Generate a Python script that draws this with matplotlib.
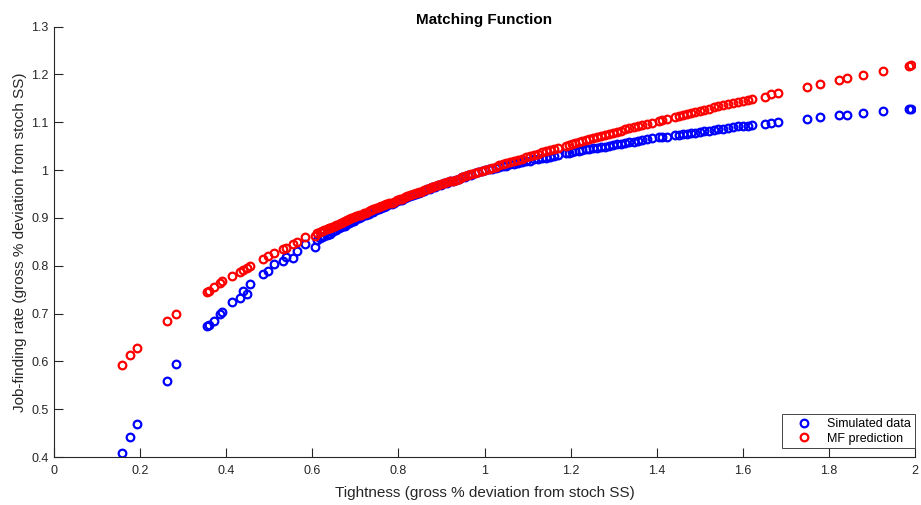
import numpy as np
import matplotlib.pyplot as plt

plt.rcParams['font.family'] = ['Liberation Sans', 'DejaVu Sans']

# tightness (x) and job-finding rate (y)
tightness = [
    0.157, 0.177, 0.192, 0.262, 0.284, 0.355, 0.361, 0.371, 0.386, 0.391,
    0.413, 0.431, 0.440, 0.448, 0.455, 0.485, 0.496, 0.511, 0.533, 0.538,
    0.554, 0.564, 0.583, 0.606,
    0.612, 0.618, 0.623, 0.627, 0.633, 0.638, 0.641, 0.646, 0.652, 0.655,
    0.661, 0.666, 0.671, 0.675, 0.681, 0.686, 0.690, 0.697, 0.702, 0.708,
    0.713, 0.719, 0.724, 0.731, 0.736, 0.742, 0.749, 0.754, 0.760, 0.766,
    0.771, 0.779, 0.784, 0.790, 0.797, 0.803, 0.808, 0.815, 0.821, 0.828,
    0.834, 0.841, 0.847, 0.852, 0.860, 0.866, 0.873, 0.879, 0.886, 0.892,
    0.899, 0.905, 0.913, 0.919, 0.926, 0.933, 0.940, 0.948, 0.955, 0.962,
    0.969, 0.977, 0.985, 0.993, 1.002, 1.010, 1.018, 1.026, 1.034, 1.043,
    1.051, 1.060, 1.068, 1.077, 1.087, 1.096, 1.105, 1.114, 1.124, 1.133,
    1.142, 1.152, 1.161, 1.170,
    1.190, 1.196, 1.203, 1.211, 1.219, 1.227, 1.235, 1.243, 1.252, 1.261,
    1.270, 1.279, 1.289, 1.298, 1.307, 1.317, 1.327, 1.336, 1.346, 1.356,
    1.366, 1.377, 1.388,
    1.405, 1.411, 1.424,
    1.443, 1.451, 1.460, 1.470, 1.479, 1.489, 1.500, 1.510, 1.521, 1.532,
    1.543, 1.554, 1.565, 1.577, 1.589, 1.600, 1.612, 1.622,
    1.652, 1.665, 1.681, 1.748, 1.778, 1.824, 1.841, 1.878, 1.926, 1.985,
    1.990,
]

simulated = [
    0.409, 0.442, 0.468, 0.558, 0.595, 0.673, 0.676, 0.685, 0.698, 0.704,
    0.724, 0.733, 0.748, 0.740, 0.761, 0.783, 0.788, 0.804, 0.810, 0.819,
    0.817, 0.831, 0.846, 0.839,
    0.854, 0.857, 0.859, 0.862, 0.864, 0.867, 0.867, 0.871, 0.874, 0.874,
    0.878, 0.880, 0.883, 0.884, 0.887, 0.890, 0.892, 0.894, 0.897, 0.899,
    0.901, 0.905, 0.905, 0.909, 0.912, 0.913, 0.916, 0.918, 0.921, 0.922,
    0.925, 0.928, 0.930, 0.931, 0.935, 0.937, 0.938, 0.941, 0.944, 0.945,
    0.948, 0.950, 0.952, 0.954, 0.957, 0.960, 0.961, 0.964, 0.965, 0.968,
    0.969, 0.972, 0.973, 0.976, 0.977, 0.980, 0.981, 0.985, 0.986, 0.989,
    0.990, 0.993, 0.995, 0.998, 1.001, 1.002, 1.003, 1.004, 1.007, 1.008,
    1.009, 1.012, 1.013, 1.014, 1.016, 1.018, 1.019, 1.022, 1.023, 1.025,
    1.026, 1.028, 1.030, 1.031,
    1.035, 1.036, 1.038, 1.039, 1.040, 1.042, 1.043, 1.044, 1.046, 1.047,
    1.048, 1.049, 1.051, 1.053, 1.054, 1.055, 1.057, 1.058, 1.059, 1.061,
    1.063, 1.064, 1.066,
    1.068, 1.069, 1.070,
    1.073, 1.074, 1.075, 1.076, 1.077, 1.078, 1.080, 1.081, 1.082, 1.084,
    1.085, 1.086, 1.088, 1.089, 1.091, 1.092, 1.093, 1.094,
    1.097, 1.099, 1.100, 1.106, 1.110, 1.114, 1.115, 1.119, 1.123, 1.127,
    1.128,
]

mf_prediction = [
    0.592, 0.614, 0.627, 0.685, 0.700, 0.746, 0.748, 0.755, 0.764, 0.767,
    0.779, 0.787, 0.792, 0.796, 0.800, 0.815, 0.821, 0.827, 0.835, 0.837,
    0.846, 0.849, 0.859, 0.863,
    0.868, 0.870, 0.872, 0.874, 0.876, 0.878, 0.879, 0.881, 0.884, 0.885,
    0.887, 0.889, 0.891, 0.893, 0.895, 0.897, 0.899, 0.901, 0.903, 0.905,
    0.907, 0.910, 0.911, 0.914, 0.916, 0.918, 0.920, 0.922, 0.924, 0.926,
    0.928, 0.931, 0.932, 0.934, 0.937, 0.939, 0.940, 0.943, 0.945, 0.947,
    0.949, 0.951, 0.953, 0.955, 0.958, 0.960, 0.962, 0.964, 0.966, 0.968,
    0.970, 0.972, 0.974, 0.976, 0.978, 0.980, 0.982, 0.985, 0.987, 0.989,
    0.991, 0.993, 0.996, 0.998, 1.001, 1.003, 1.005, 1.007, 1.010, 1.012,
    1.014, 1.017, 1.019, 1.021, 1.024, 1.027, 1.029, 1.032, 1.034, 1.037,
    1.039, 1.041, 1.044, 1.046,
    1.051, 1.053, 1.055, 1.057, 1.059, 1.061, 1.063, 1.065, 1.067, 1.069,
    1.071, 1.073, 1.076, 1.078, 1.080, 1.082, 1.085, 1.087, 1.089, 1.091,
    1.094, 1.096, 1.099,
    1.103, 1.104, 1.107,
    1.111, 1.113, 1.115, 1.117, 1.119, 1.121, 1.124, 1.126, 1.128, 1.131,
    1.133, 1.135, 1.138, 1.140, 1.143, 1.145, 1.147, 1.149,
    1.153, 1.158, 1.161, 1.174, 1.180, 1.189, 1.192, 1.199, 1.208, 1.218,
    1.219,
]

xtick_vals = [0, 0.2, 0.4, 0.6, 0.8, 1, 1.2, 1.4, 1.6, 1.8, 2]
xtick_labels = ['0', '0.2', '0.4', '0.6', '0.8', '1', '1.2', '1.4', '1.6', '1.8', '2']
ytick_vals = [0.4, 0.5, 0.6, 0.7, 0.8, 0.9, 1, 1.1, 1.2, 1.3]
ytick_labels = ['0.4', '0.5', '0.6', '0.7', '0.8', '0.9', '1', '1.1', '1.2', '1.3']

axis_col = (0.15, 0.15, 0.15)

fig = plt.figure(figsize=(9.21, 5.05), dpi=100)
ax = fig.add_axes([0.0586, 0.095, 0.935, 0.8525])

ax.plot(tightness, simulated, 'o', color='blue', mfc='none', ms=5.5, mew=1.6,
        label='Simulated data')
ax.plot(tightness, mf_prediction, 'o', color='red', mfc='none', ms=5.5, mew=1.6,
        label='MF prediction')

ax.set_xlim(0, 2)
ax.set_ylim(0.4, 1.3)
ax.set_xticks(xtick_vals)
ax.set_xticklabels(xtick_labels)
ax.set_yticks(ytick_vals)
ax.set_yticklabels(ytick_labels)

for s in ['top', 'right']:
    ax.spines[s].set_visible(False)
for s in ['left', 'bottom']:
    ax.spines[s].set_color(axis_col)
    ax.spines[s].set_linewidth(0.8)
ax.tick_params(direction='in', length=6.2, width=0.8, colors=axis_col,
               labelsize=9)
ax.tick_params(axis='x', pad=6)
ax.tick_params(axis='y', pad=4)

ax.set_title('Matching Function', fontsize=11, fontweight='bold', pad=2)
ax.set_xlabel('Tightness (gross % deviation from stoch SS)', fontsize=11,
              color=axis_col, labelpad=6)
ax.set_ylabel('Job-finding rate (gross % deviation from stoch SS)', fontsize=11,
              color=axis_col, labelpad=3)

leg = ax.legend(loc='lower right', bbox_to_anchor=(1.0, 0.02), borderaxespad=0,
                fontsize=9, fancybox=False, framealpha=1, edgecolor=axis_col,
                handletextpad=0.5, borderpad=0.3, labelspacing=0.2,
                handlelength=2.8)
leg.get_frame().set_linewidth(0.6)

fig.savefig('out.png', dpi=100)
